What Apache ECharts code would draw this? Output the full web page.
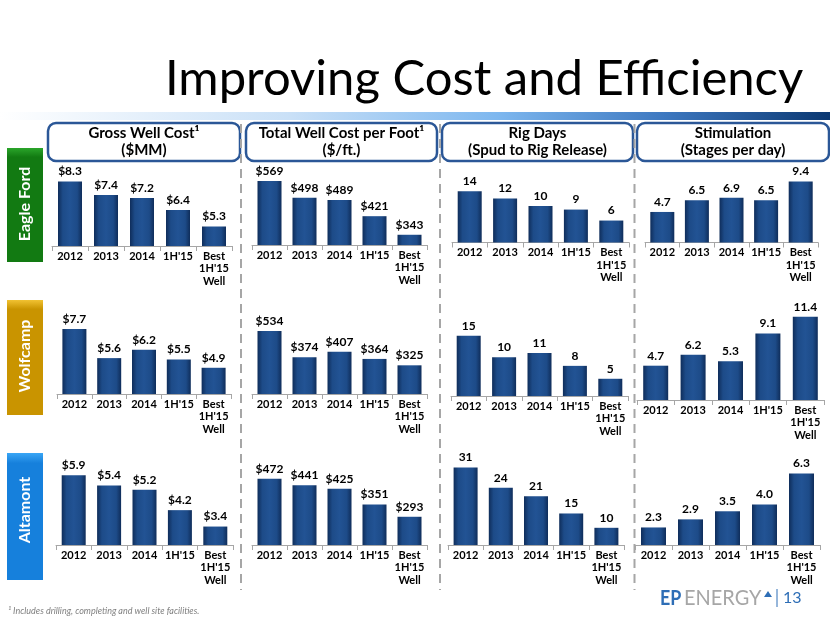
<!DOCTYPE html>
<html><head><meta charset="utf-8">
<script src="https://cdn.jsdelivr.net/npm/echarts@6/dist/echarts.min.js"></script>
<style>html,body{margin:0;padding:0;background:#fff}#c{width:830px;height:623px}</style>
</head><body><div id="c"></div>
<script>
// ---------- data ----------
const categories = ['2012', '2013', '2014', "1H'15", "Best\n1H'15\nWell"];
const regionNames = ['Eagle Ford', 'Wolfcamp', 'Altamont'];
const metricTitles = ['Gross Well Cost¹\n($MM)', 'Total Well Cost per Foot¹\n($/ft.)', 'Rig Days\n(Spud to Rig Release)', 'Stimulation\n(Stages per day)'];

const efGrossCost   = [8.3, 7.4, 7.2, 6.4, 5.3];
const efCostPerFoot = [569, 498, 489, 421, 343];
const efRigDays     = [14, 12, 10, 9, 6];
const efStimulation = [4.7, 6.5, 6.9, 6.5, 9.4];

const wcGrossCost   = [7.7, 5.6, 6.2, 5.5, 4.9];
const wcCostPerFoot = [534, 374, 407, 364, 325];
const wcRigDays     = [15, 10, 11, 8, 5];
const wcStimulation = [4.7, 6.2, 5.3, 9.1, 11.4];

const alGrossCost   = [5.9, 5.4, 5.2, 4.2, 3.4];
const alCostPerFoot = [472, 441, 425, 351, 293];
const alRigDays     = [31, 24, 21, 15, 10];
const alStimulation = [2.3, 2.9, 3.5, 4.0, 6.3];

const footnote = '¹ Includes drilling, completing and well site facilities.';
const titleText = 'Improving Cost and Efficiency';
const pageNumber = '13';

// ---------- layout / scales ----------
const FONT = 'Lato, "Open Sans", sans-serif';
const seriesRows = [
  [efGrossCost, efCostPerFoot, efRigDays, efStimulation],
  [wcGrossCost, wcCostPerFoot, wcRigDays, wcStimulation],
  [alGrossCost, alCostPerFoot, alRigDays, alStimulation]
];
const labelFormats = [v => '$' + v.toFixed(1), v => '$' + v, v => String(v), v => v.toFixed(1)];
const H = 90;
const layout = [
  [{l:52,r:232,b:246,min:4,max:10},{l:252,r:427,b:245,min:300,max:678},{l:452,r:629,b:242.5,min:0,max:24.6},{l:645,r:818,b:242.5,min:0,max:13.85}],
  [{l:57,r:231,b:394,min:3,max:9.52},{l:252,r:427,b:394,min:150,max:699},{l:451,r:628,b:396,min:1,max:21.9},{l:637,r:824,b:400,min:0,max:12.33}],
  [{l:56,r:233,b:545,min:2.5,max:6.89},{l:252,r:427,b:545,min:160,max:584},{l:448,r:624,b:545,min:4,max:35.4},{l:635,r:820,b:545,min:1,max:7.67}]
];

const grids = [], xAxes = [], yAxes = [], series = [];
const barColor = new echarts.graphic.LinearGradient(0, 0, 1, 0, [
  {offset: 0, color: '#0f2d5a'}, {offset: 0.2, color: '#1d4b88'},
  {offset: 0.5, color: '#225394'}, {offset: 0.8, color: '#1d4b88'}, {offset: 1, color: '#0f2d5a'}
]);
let idx = 0;
for (let r = 0; r < 3; r++) {
  for (let c = 0; c < 4; c++) {
    const L = layout[r][c];
    grids.push({left: L.l, top: L.b - H, width: L.r - L.l, height: H});
    xAxes.push({
      gridIndex: idx, type: 'category', data: categories,
      axisLine: {lineStyle: {color: '#a6a6a6', width: 1}},
      axisTick: {show: true, length: 5, lineStyle: {color: '#a6a6a6'}},
      axisLabel: {interval: 0, color: '#000', fontWeight: 'bold', fontSize: 11, fontFamily: FONT, lineHeight: 12.5, margin: 4}
    });
    yAxes.push({gridIndex: idx, type: 'value', min: L.min, max: L.max, show: false});
    const fmt = labelFormats[c];
    series.push({
      type: 'bar', xAxisIndex: idx, yAxisIndex: idx, data: seriesRows[r][c],
      barWidth: (r > 0 && c === 3) ? 25 : 24,
      itemStyle: {color: barColor},
      label: {show: true, position: 'top', distance: 4, formatter: p => fmt(p.value),
        color: '#000', fontWeight: 'bold', fontSize: 12, fontFamily: FONT}
    });
    idx++;
  }
}

// ---------- decorations ----------
const graphic = [];
graphic.push({type: 'text', x: 165, y: 79, style: {text: titleText, font: '49px ' + FONT, fill: '#000', verticalAlign: 'middle'}});
graphic.push({type: 'rect', shape: {x: 0, y: 112, width: 830, height: 8}, style: {fill: new echarts.graphic.LinearGradient(0, 0, 1, 0, [
  {offset: 0, color: '#ffffff'}, {offset: 0.35, color: '#c9e0f7'}, {offset: 0.6, color: '#7db7ef'}, {offset: 0.8, color: '#3d78c0'}, {offset: 1, color: '#0b3872'}])}});
const headerBoxes = [[48, 240], [246, 437], [442, 633], [637, 829]];
headerBoxes.forEach((hb, i) => {
  graphic.push({type: 'rect', shape: {x: hb[0], y: 123, width: hb[1] - hb[0], height: 38, r: 8},
    style: {fill: '#fff', stroke: '#2b5797', lineWidth: 2.5}});
  graphic.push({type: 'text', x: (hb[0] + hb[1]) / 2, y: 142, style: {text: metricTitles[i], font: 'bold 15px ' + FONT,
    fill: '#000', align: 'center', verticalAlign: 'middle', lineHeight: 17}});
});
[241, 440, 634.5].forEach(x => {
  graphic.push({type: 'line', shape: {x1: x, y1: 124, x2: x, y2: 590}, style: {stroke: '#a6a6a6', lineWidth: 2, lineDash: [9, 6]}});
});
const regionBoxes = [
  {y: 148, h: 114, top: '#2aa52a', bot: '#127a12', ty: 204},
  {y: 300, h: 115, top: '#f1c232', bot: '#c99400', ty: 356},
  {y: 453, h: 127, top: '#3aa6f5', bot: '#1680dc', ty: 510}
];
regionBoxes.forEach((rb, i) => {
  graphic.push({type: 'rect', shape: {x: 7, y: rb.y, width: 36, height: rb.h},
    style: {fill: new echarts.graphic.LinearGradient(0, 0, 0, 1, [{offset: 0, color: rb.top}, {offset: 0.08, color: rb.bot}, {offset: 1, color: rb.bot}])}});
  graphic.push({type: 'text', x: 25, y: rb.ty, rotation: Math.PI / 2,
    style: {text: regionNames[i], font: 'bold 16px ' + FONT, fill: '#fff', align: 'center', verticalAlign: 'middle'}});
});
graphic.push({type: 'text', x: 8, y: 611, style: {text: footnote, font: 'italic 9px ' + FONT, fill: '#808080', verticalAlign: 'middle'}});
graphic.push({type: 'text', x: 660, y: 598, scaleX: 0.85, style: {text: 'EP', font: 'bold 21px ' + FONT, fill: '#2e6eb6', verticalAlign: 'middle'}});
graphic.push({type: 'text', x: 684, y: 598, scaleX: 0.95, style: {text: 'ENERGY', font: '21px ' + FONT, fill: '#a6a6a6', verticalAlign: 'middle'}});
graphic.push({type: 'polygon', shape: {points: [[764, 597], [768, 591], [772, 597]]}, style: {fill: '#2e6eb6'}});
graphic.push({type: 'line', shape: {x1: 777, y1: 589, x2: 777, y2: 607}, style: {stroke: '#2e6eb6', lineWidth: 1}});
graphic.push({type: 'text', x: 783, y: 598, style: {text: pageNumber, font: '16px ' + FONT, fill: '#2e6eb6', verticalAlign: 'middle'}});

const chart = echarts.init(document.getElementById('c'), null, {renderer: 'canvas'});
chart.setOption({animation: false, grid: grids, xAxis: xAxes, yAxis: yAxes, series: series, graphic: graphic});
</script></body></html>
